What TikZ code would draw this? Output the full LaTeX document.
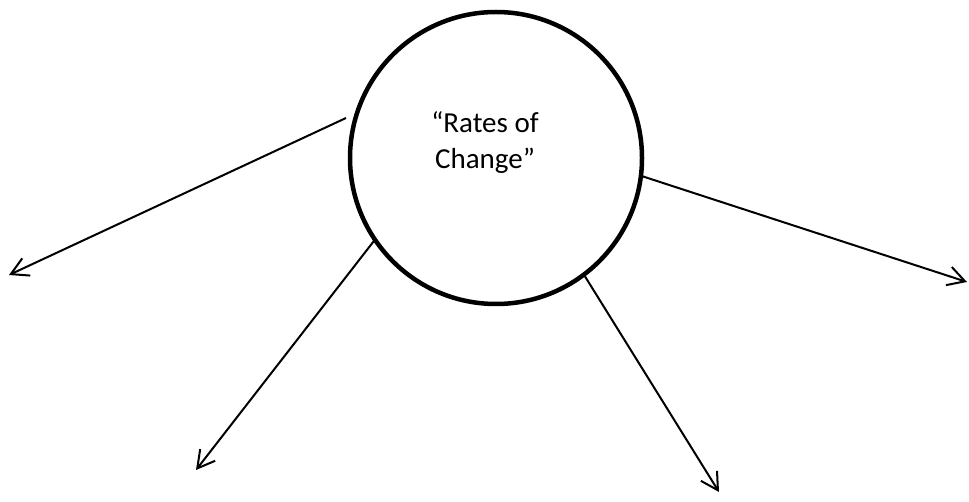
\documentclass[tikz,border=0pt]{standalone}
\usepackage{fontspec}
\setmainfont{Carlito}
\usetikzlibrary{arrows.meta}
\begin{document}
\begin{tikzpicture}[x=1pt,y=-1pt,
  ring/.style={circle,draw,line width=4.5pt,minimum size=292pt,inner sep=0pt,outer sep=0pt},
  label/.style={align=center,font=\fontsize{29}{36}\selectfont,inner sep=0pt},
  conn/.style={line width=2pt,-{Straight Barb[length=17pt,width=19pt,line width=2pt]}}]
\useasboundingbox[fill=white] (0,0) rectangle (969,502);
\node[ring] (c) at (496,158) {};
\node[label] (t) at (485,143) {“Rates of\\Change”};
\coordinate (s1) at (346,118);
\coordinate (e1) at (9,275);
\coordinate (e2) at (196,470);
\coordinate (e3) at (719,492);
\coordinate (e4) at (967,282);
\draw[conn] (s1) -- (e1);
\draw[conn] (c.214.6) -- (e2);
\draw[conn] (c.307.7) -- (e3);
\draw[conn] (c.-7.3) -- (e4);
\end{tikzpicture}
\end{document}
